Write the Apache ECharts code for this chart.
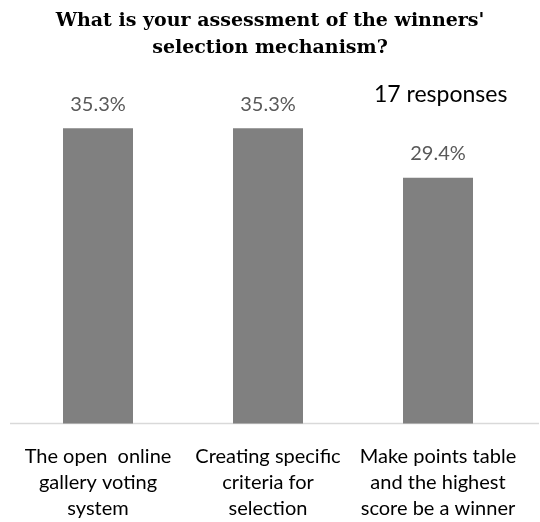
<!DOCTYPE html>
<html lang="en">
<head>
  <meta charset="UTF-8">
  <title>Winners' selection mechanism</title>
  <script src="https://cdn.jsdelivr.net/npm/echarts@6/dist/echarts.min.js"></script>
  <style>
    html, body { margin: 0; padding: 0; background: #fff; }
    #chart { width: 540px; height: 522px; }
  </style>
</head>
<body>
  <div id="chart"></div>
  <script>
    const myChart = echarts.init(document.getElementById('chart'))

    const categories = [
      'The open  online\ngallery voting\nsystem',
      'Creating specific\ncriteria for\nselection',
      'Make points table\nand the highest\nscore be a winner'
    ]
    const percents = [35.3, 35.3, 29.4]
    const responses = 17

    const labelFont = 'Lato, "Open Sans", sans-serif'

    const option = {
      backgroundColor: '#fff',
      title: [
        {
          text: "What is your assessment of the winners'\nselection mechanism?",
          left: 'center',
          top: 3,
          textStyle: {
            fontFamily: '"DejaVu Serif", serif',
            fontWeight: 'bold',
            fontSize: 19,
            lineHeight: 27,
            color: '#000'
          }
        },
        {
          text: responses + ' responses',
          left: 369,
          top: 78,
          textStyle: {
            fontFamily: labelFont,
            fontWeight: 'normal',
            fontSize: 23,
            color: '#000'
          }
        }
      ],
      // baseline spans a bit wider than the plot area
      graphic: [
        {
          type: 'line',
          shape: { x1: 10, y1: 423.5, x2: 539, y2: 423.5 },
          style: { stroke: '#d9d9d9', lineWidth: 1.5 },
          z: 0
        }
      ],
      grid: { left: 13, right: 17, top: 89, bottom: 98.5 },
      xAxis: {
        type: 'category',
        data: categories,
        axisLine: { show: false },
        axisTick: { show: false },
        axisLabel: {
          fontFamily: labelFont,
          fontSize: 20,
          lineHeight: 26,
          color: '#000',
          margin: 20,
          interval: 0
        }
      },
      yAxis: {
        type: 'value',
        min: 0,
        max: 40,
        show: false,
        splitLine: { show: false }
      },
      series: [
        {
          type: 'bar',
          data: percents,
          barWidth: 70,
          itemStyle: { color: '#808080' },
          label: {
            show: true,
            position: 'top',
            distance: 14,
            formatter: p => p.value.toFixed(1) + '%',
            fontFamily: labelFont,
            fontSize: 20,
            color: '#595959'
          },
          z: 2
        }
      ]
    }

    myChart.setOption(option)
  </script>
</body>
</html>
